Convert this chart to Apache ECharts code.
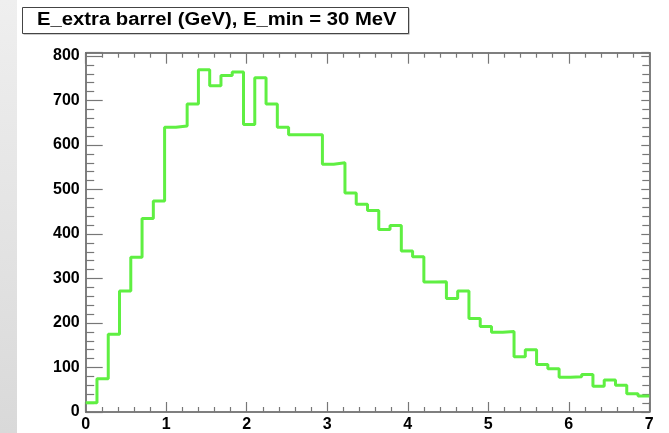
<!DOCTYPE html>
<html>
<head>
<meta charset="utf-8">
<script src="https://cdn.jsdelivr.net/npm/echarts@6/dist/echarts.min.js"></script>
<style>
  html, body { margin: 0; padding: 0; background: #ffffff; }
  #chart { width: 669px; height: 433px; }
</style>
</head>
<body>
<div id="chart"></div>
<script>
// Histogram: E_extra in the barrel, 50 bins from 0 to 7 GeV
const titleText = 'E_extra barrel (GeV), E_min = 30 MeV';
const xMin = 0;
const xMax = 7;
const binWidth = 0.14;
const counts = [
  21, 75, 175, 272, 348, 435, 474, 640, 643, 692,
  769, 733, 756, 764, 646, 751, 692, 640, 623, 623,
  623, 557, 560, 492, 467, 453, 410, 419, 362, 349,
  292, 293, 255, 272, 210, 192, 179, 181, 124, 140,
  107, 97, 78, 79, 84, 58, 72, 60, 41, 36
];
const yMax = 807.5;
const yTickStep = 100;
const xTickStep = 1;

// step line through the left edge of every bin, closed at the last upper edge
const histPoints = counts.map((c, i) => [+(xMin + i * binWidth).toFixed(4), c]);
histPoints.push([xMax, counts[counts.length - 1]]);

const font = '"Liberation Sans", Arial, Helvetica, sans-serif';
const frameColor = '#555555';
const tickColor = '#777777';

const chart = echarts.init(document.getElementById('chart'), null, { renderer: 'canvas' });

function baseAxis(extra) {
  return Object.assign({
    type: 'value',
    axisLine: { show: true, onZero: false, lineStyle: { color: frameColor, width: 1.5 } },
    splitLine: { show: false },
    minorSplitLine: { show: false }
  }, extra);
}

chart.setOption({
  animation: false,
  backgroundColor: '#ffffff',
  grid: { left: 85.7, right: 19.7, top: 52.7, bottom: 20.3, containLabel: false },
  xAxis: [
    baseAxis({
      position: 'bottom', min: xMin, max: xMax, interval: xTickStep,
      axisTick: { show: true, inside: true, length: 10, lineStyle: { color: tickColor, width: 1.2 } },
      minorTick: { show: true, splitNumber: 5, length: 5, lineStyle: { color: tickColor, width: 1.2 } },
      axisLabel: { show: true, margin: 5, color: '#000', fontFamily: font, fontWeight: 'bold', fontSize: 16 }
    }),
    baseAxis({
      position: 'top', min: xMin, max: xMax, interval: xTickStep,
      axisTick: { show: true, inside: true, length: 11, lineStyle: { color: tickColor, width: 1.2 } },
      minorTick: { show: true, splitNumber: 5, length: 5, lineStyle: { color: tickColor, width: 1.2 } },
      axisLabel: { show: false }
    })
  ],
  yAxis: [
    baseAxis({
      position: 'left', min: 0, max: yMax, interval: yTickStep,
      axisTick: { show: true, inside: true, length: 17, lineStyle: { color: tickColor, width: 1.2 } },
      minorTick: { show: true, splitNumber: 5, length: 8.5, lineStyle: { color: tickColor, width: 1.2 } },
      axisLabel: {
        show: true, margin: 6, color: '#000', fontFamily: font, fontWeight: 'bold', fontSize: 16,
        formatter: v => (v % yTickStep === 0 ? String(v) : '')
      }
    }),
    baseAxis({
      position: 'right', min: 0, max: yMax, interval: yTickStep,
      axisTick: { show: true, inside: true, length: 8, lineStyle: { color: tickColor, width: 1.2 } },
      minorTick: { show: true, splitNumber: 5, length: 7, lineStyle: { color: tickColor, width: 1.2 } },
      axisLabel: { show: false }
    })
  ],
  graphic: [
    {
      type: 'rect', left: 0, top: 0, z: -10,
      shape: { width: 17, height: 433 },
      style: {
        fill: new echarts.graphic.LinearGradient(0, 0, 0, 1, [
          { offset: 0, color: '#efefef' },
          { offset: 1, color: '#d9d9d9' }
        ])
      }
    },
    {
      type: 'rect', x: 23.5, y: 8.5, z: 10,
      shape: { width: 386, height: 26 },
      style: { fill: '#9a9a9a' }
    },
    {
      type: 'rect', x: 22.5, y: 7.5, z: 11,
      shape: { width: 386, height: 26 },
      style: { fill: '#ffffff', stroke: '#444444', lineWidth: 1 }
    },
    {
      type: 'text', x: 37, y: 11, z: 12, scaleX: 1.125, scaleY: 1,
      style: { text: titleText, fill: '#000', font: 'bold 18px ' + font }
    }
  ],
  series: [{
    type: 'line',
    xAxisIndex: 0,
    yAxisIndex: 0,
    step: 'end',
    data: histPoints,
    showSymbol: false,
    symbol: 'none',
    clip: true,
    lineStyle: { color: '#5fef42', width: 3 },
    z: 5
  }]
});
</script>
</body>
</html>
